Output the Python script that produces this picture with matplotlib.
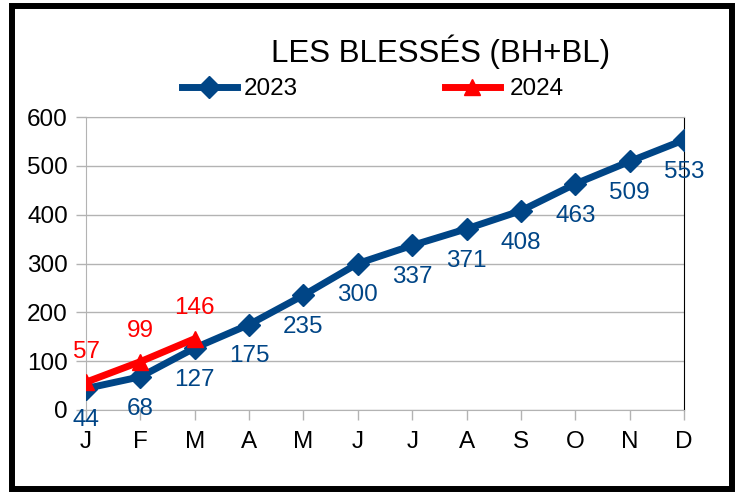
import matplotlib.pyplot as plt
from matplotlib.patches import Rectangle

plt.rcParams['font.family'] = ['Liberation Sans', 'DejaVu Sans']

months = ['J', 'F', 'M', 'A', 'M', 'J', 'J', 'A', 'S', 'O', 'N', 'D']
blesses_2023 = [44, 68, 127, 175, 235, 300, 337, 371, 408, 463, 509, 553]
blesses_2024 = [57, 99, 146]

blue = '#004586'
red = '#ff0000'
grid_col = '#b3b3b3'

W, H = 737, 493
fig = plt.figure(figsize=(W / 100, H / 100), dpi=100)
ax = fig.add_axes([86 / W, 1 - 410 / H, (684 - 86) / W, (410 - 117) / H])

x = list(range(len(months)))
l1, = ax.plot(x, blesses_2023, color=blue, lw=5, marker='D', ms=11, zorder=3, label='2023')
l2, = ax.plot(x[:len(blesses_2024)], blesses_2024, color=red, lw=5, marker='^', ms=12,
              zorder=4, label='2024')

for xi, v in zip(x, blesses_2023):
    ax.annotate(str(v), (xi, v), xytext=(0, -23), textcoords='offset points',
                ha='center', va='center', color=blue, fontsize=17.5, zorder=5)
for xi, v in zip(x, blesses_2024):
    ax.annotate(str(v), (xi, v), xytext=(0, 22), textcoords='offset points',
                ha='center', va='center', color=red, fontsize=17.5, zorder=5)

ax.set_xlim(0, len(months) - 1)
ax.set_ylim(0, 600)
ax.set_xticks(x)
ax.set_xticklabels(months)
ax.set_yticks(range(0, 601, 100))
ax.tick_params(axis='both', labelsize=17.5, colors=grid_col, labelcolor='black', length=7, width=1)
ax.tick_params(axis='x', pad=8)
ax.tick_params(axis='y', pad=6)
ax.grid(axis='y', color=grid_col, lw=1)
ax.set_axisbelow(True)
for s in ['left', 'bottom', 'top']:
    ax.spines[s].set_color(grid_col)
ax.spines['right'].set_color('black')

fig.text(441 / W, 1 - 52 / H, 'LES BLESSÉS (BH+BL)', ha='center', va='center', fontsize=22.5)

# legende a la main, sur deux positions
fig.legend(handles=[l1], loc='center left', bbox_to_anchor=(182 / W, 1 - 89 / H), frameon=False,
           fontsize=17.5, handlelength=2.25, handletextpad=0.3, borderpad=0, borderaxespad=0)
fig.legend(handles=[l2], loc='center left', bbox_to_anchor=(445 / W, 1 - 89 / H), frameon=False,
           fontsize=17.5, handlelength=2.25, handletextpad=0.4, borderpad=0, borderaxespad=0)

fig.patches.append(Rectangle((12 / W, 1 - 489 / H), 720 / W, 483 / H, transform=fig.transFigure,
                             fill=False, ec='black', lw=4.3))

fig.savefig('out.png', dpi=100)
